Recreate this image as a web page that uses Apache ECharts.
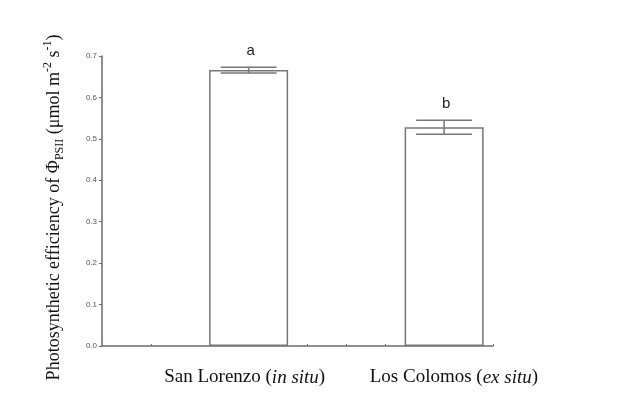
<!DOCTYPE html>
<html>
<head>
<meta charset="utf-8">
<script src="https://cdn.jsdelivr.net/npm/echarts@6/dist/echarts.min.js"></script>
<style>
  html, body { margin: 0; padding: 0; background: #fff; }
  #chart { width: 640px; height: 420px; }
</style>
</head>
<body>
<div id="chart"></div>
<script>
// sites and their x positions on the (hidden) value scale
const sites = ['San Lorenzo', 'Los Colomos']
const siteNotes = ['in situ', 'ex situ']
const sitePos = [0.75, 1.75]
const labelPos = [0.73, 1.8]
const means = [0.666, 0.528]
const errors = [0.007, 0.017]
const letters = ['a', 'b']
const xTickPos = [0.25, 0.75, 1.05, 1.25, 1.45, 1.75, 2]

const axisColor = '#6b6b6b'
const serif = '"Liberation Serif", "Times New Roman", serif'

const chart = echarts.init(document.getElementById('chart'))

chart.setOption({
  animation: false,
  backgroundColor: '#fff',
  grid: { left: 102, right: 147, top: 56, bottom: 74 },
  xAxis: {
    type: 'value',
    min: 0,
    max: 2,
    splitLine: { show: false },
    axisLine: { show: true, lineStyle: { color: axisColor, width: 1.5 } },
    axisTick: { show: true, customValues: xTickPos, length: 2, inside: true, lineStyle: { color: axisColor } },
    axisLabel: {
      customValues: labelPos,
      margin: 22,
      formatter: function (v) {
        const i = labelPos.indexOf(v)
        if (i < 0) return ''
        return '{n|' + sites[i] + ' (}{i|' + siteNotes[i] + '}{n|)}'
      },
      rich: {
        n: { fontFamily: serif, fontSize: 19, color: '#111' },
        i: { fontFamily: serif, fontSize: 19, fontStyle: 'italic', color: '#111' }
      }
    }
  },
  yAxis: {
    type: 'value',
    min: 0,
    max: 0.7,
    interval: 0.1,
    splitLine: { show: false },
    axisLine: { show: true, lineStyle: { color: axisColor, width: 1.5 } },
    axisTick: { show: true, length: 3, lineStyle: { color: axisColor } },
    axisLabel: {
      fontSize: 8,
      color: '#555',
      margin: 5,
      fontFamily: '"Liberation Sans", Arial, sans-serif',
      formatter: v => v.toFixed(1)
    },
    name: '{n|Photosynthetic efficiency of Φ}{sub|PSII}{n| (μmol m}{sup|-2}{n| s}{sup|-1}{n|)}',
    nameLocation: 'middle',
    nameRotate: 90,
    nameGap: 36,
    nameTextStyle: {
      padding: [0, 13, 0, 0],
      rich: {
        n: { fontFamily: serif, fontSize: 18, color: '#111', lineHeight: 24 },
        sub: { fontFamily: serif, fontSize: 12, color: '#111', verticalAlign: 'bottom', lineHeight: 20 },
        sup: { fontFamily: serif, fontSize: 12, color: '#111', verticalAlign: 'top', lineHeight: 24 }
      }
    }
  },
  series: [
    {
      type: 'bar',
      barWidth: 79,
      data: sitePos.map((p, i) => [p, means[i]]),
      itemStyle: { color: '#fff', borderColor: '#777', borderWidth: 1.5 }
    },
    {
      type: 'custom',
      data: sitePos.map((p, i) => [p, means[i], errors[i]]),
      z: 5,
      renderItem: function (params, api) {
        const x = api.value(0)
        const m = api.value(1)
        const e = api.value(2)
        const top = api.coord([x, m + e])
        const bot = api.coord([x, m - e])
        const half = 28
        const ls = { stroke: '#777', lineWidth: 1.5 }
        return {
          type: 'group',
          children: [
            { type: 'line', shape: { x1: top[0], y1: top[1], x2: bot[0], y2: bot[1] }, style: ls },
            { type: 'line', shape: { x1: top[0] - half, y1: top[1], x2: top[0] + half, y2: top[1] }, style: ls },
            { type: 'line', shape: { x1: bot[0] - half, y1: bot[1], x2: bot[0] + half, y2: bot[1] }, style: ls },
            {
              type: 'text',
              style: {
                text: letters[params.dataIndex],
                x: top[0] + 2,
                y: top[1] - 16,
                align: 'center',
                verticalAlign: 'middle',
                fill: '#222',
                font: '15px "Liberation Sans", Arial, sans-serif'
              }
            }
          ]
        }
      }
    }
  ]
})
</script>
</body>
</html>
